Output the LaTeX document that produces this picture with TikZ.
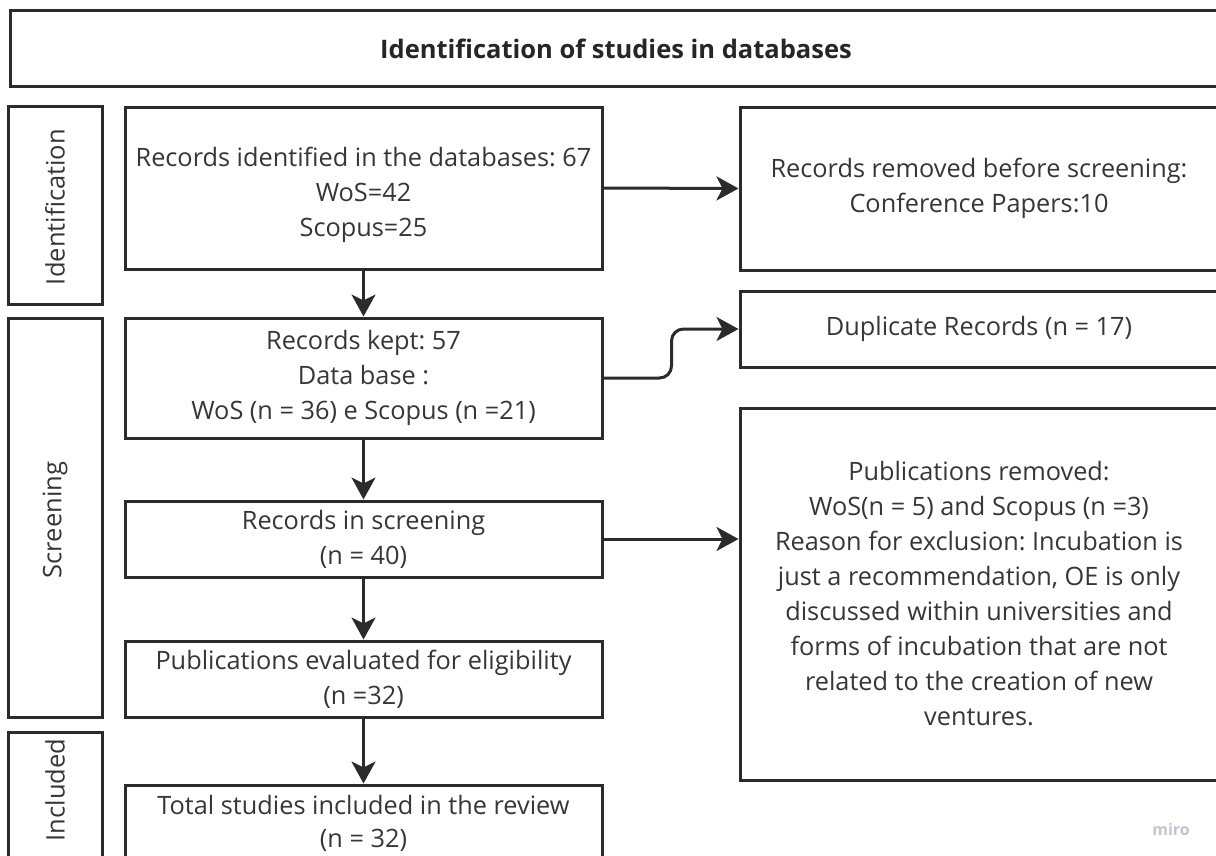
\documentclass[tikz,border=0pt]{standalone}
\usepackage{fontspec}
\setmainfont{Open Sans}
\usetikzlibrary{arrows.meta}
\definecolor{edge}{HTML}{2B2B2B}
\definecolor{txt}{HTML}{363636}
\definecolor{wm}{HTML}{C4C4D0}
\tikzset{
  box/.style={draw=edge, line width=3pt, rectangle, inner sep=0pt, align=center,
    text=txt, font=\fontsize{25.3}{35}\selectfont},
  sidelabel/.style={rotate=90, text=txt, font=\fontsize{25.5}{30}\selectfont},
  arr/.style={draw=edge, line width=3pt, -{Stealth[length=22pt,width=24pt,inset=6pt]}},
}
\begin{document}
\frenchspacing
\begin{tikzpicture}[x=1pt,y=-1pt]
\useasboundingbox (0,0) rectangle (1216,855);
\fill[white] (0,0) rectangle (1216,855);
% title
\node[box, minimum width=1212, minimum height=76, font=\fontsize{25.5}{30}\selectfont\bfseries, text=black!85] (title) at (616,48.5) {Identification of studies in databases};
% side label boxes
\node[box, minimum width=94, minimum height=198] (sid) at (55,205) {};
\node[sidelabel] (sidt) at (55,207) {Identification};
\node[box, minimum width=94, minimum height=399] (sscr) at (55,517.5) {};
\node[sidelabel] (sscrt) at (55,520) {Screening};
\node[box, minimum width=94, minimum height=130] (sinc) at (55,797) {};
\node[sidelabel] (sinct) at (55,790) {Included};
% main column
\node[box, minimum width=477, minimum height=162] (b1) at (363.5,188) {};
\node[text=txt, align=center, font=\fontsize{25.3}{35}\selectfont, inner sep=0pt] (b1t) at (363.5,195) {Records identified in the databases: 67\\WoS=42\\Scopus=25};
\node[box, minimum width=477, minimum height=120] (b2) at (363.5,378) {Records kept: 57\\Data base :\\WoS (n = 36) e Scopus (n =21)};
\node[box, minimum width=477, minimum height=76] (b3) at (363.5,539) {Records in screening\\(n = 40)};
\node[box, minimum width=477, minimum height=76] (b4) at (363.5,679) {Publications evaluated for eligibility\\(n =32)};
\node[box, minimum width=477, minimum height=78] (b5) at (363.5,824) {};
\node[text=txt, align=center, font=\fontsize{25.3}{33}\selectfont, inner sep=0pt] (b5t) at (363.5,823) {Total studies included in the review\\(n = 32)};
% right column
\node[box, minimum width=478, minimum height=163] (r1) at (979,188.5) {Records removed before screening:\\Conference Papers:10};
\node[box, minimum width=478, minimum height=76] (r2) at (979,329) {Duplicate Records (n = 17)};
\node[box, minimum width=478, minimum height=372] (r3) at (979,594) {Publications removed:\\WoS(n = 5) and Scopus (n =3)\\Reason for exclusion: Incubation is\\just a recommendation, OE is only\\discussed within universities and\\forms of incubation that are not\\related to the creation of new\\ventures.};
% connectors
\draw[arr] (b1.south) -- (b2.north);
\draw[arr] (b2.south) -- (b3.north);
\draw[arr] (b3.south) -- (b4.north);
\draw[arr] (b4.south) -- (b5.north);
\draw[arr] (b1.east) -- (r1.west);
\draw[arr, rounded corners=12pt] (b2.east) -- ++(68,0) |- (r2.west);
\draw[arr] (b3.east) -- (r3.west |- b3.east);
% watermark
\node[text=wm, font=\fontsize{16}{18}\selectfont\bfseries] (miro) at (1171,829) {miro};
\end{tikzpicture}
\end{document}
